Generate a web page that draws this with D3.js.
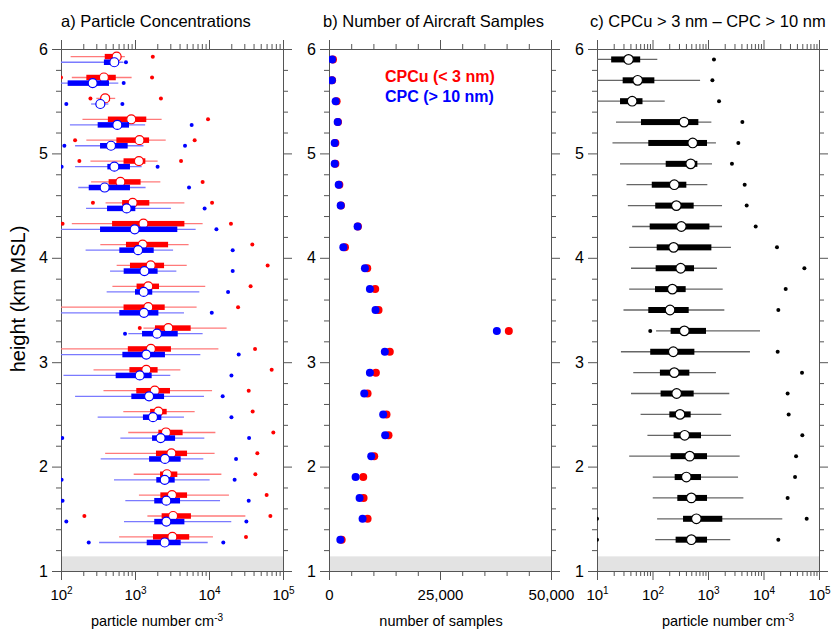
<!DOCTYPE html>
<html>
<head>
<meta charset="utf-8">
<script src="https://cdn.jsdelivr.net/npm/d3@7"></script>
<style>
  body { margin: 0; background: #fff; }
  svg { font-family: "Liberation Sans", Arial, Helvetica, sans-serif; }
  .axis path, .axis line { stroke: #555; }
</style>
</head>
<body>
<svg id="chart" width="832" height="631"></svg>
<script>
// height bins (km MSL)
const heights = [5.9, 5.7, 5.5, 5.3, 5.1, 4.9, 4.7, 4.5, 4.3, 4.1, 3.9, 3.7,
                 3.5, 3.3, 3.1, 2.9, 2.7, 2.5, 2.3, 2.1, 1.9, 1.7, 1.5, 1.3];

// CPCu (< 3 nm), cm-3 : [low whisker, q1, median, q3, high whisker]
const cpcuStats = [
  [135, 390, 565, 630, 730], [140, 220, 380, 550, 900], [300, 345, 395, 460, 540],
  [195, 430, 890, 1420, 2290], [220, 560, 1150, 1550, 2600], [250, 700, 1130, 1380, 2020],
  [255, 440, 635, 1190, 2200], [400, 670, 930, 1560, 4650], [140, 490, 1300, 4650, 8200],
  [340, 755, 1270, 2800, 5300], [565, 855, 1630, 2470, 5000], [495, 1050, 1510, 2110, 8900],
  [85, 700, 1510, 2520, 6800], [1300, 1860, 2820, 5650, 17300], [85, 800, 1640, 3060, 13400],
  [275, 840, 1420, 2020, 4100], [375, 1040, 1850, 2970, 11000], [695, 1600, 2070, 2680, 6400],
  [810, 2070, 2620, 4400, 12200], [395, 1920, 3100, 5050, 11900], [960, 2180, 2700, 3730, 14700],
  [1130, 2200, 3160, 5050, 18600], [1470, 2290, 3270, 5700, 31000], [610, 1750, 3200, 5400, 11300]
];
const cpcuLow = [null, 100, 250, null, 155, 177, null, 270, 105, null, null, null,
                 null, 1160, null, null, null, null, null, null, null, null, 207, null];
const cpcuHigh = [1740, 1700, 2240, 9700, 6400, 4190, 8200, 11000, 19800, 38500, 62000, 36500,
                  24700, null, 41900, 70300, 34400, 38900, 74000, 45000, 42300, 60100, 67500, 31600];

// CPC (> 10 nm), cm-3
const cpcStats = [
  [80, 380, 525, 595, 695], [80, 123, 268, 445, 595], [255, 303, 340, 380, 436],
  [132, 313, 577, 830, 1370], [155, 337, 474, 796, 1300], [155, 423, 526, 855, 1230],
  [171, 237, 389, 855, 1390], [218, 419, 771, 1010, 3060], [80, 337, 990, 3730, 6600],
  [215, 614, 1100, 1790, 3270], [460, 703, 1340, 2020, 3620], [414, 1000, 1310, 1710, 7400],
  [85, 614, 1320, 2070, 4590], [813, 1245, 1980, 3780, 8200], [85, 675, 1420, 2540, 7640],
  [108, 548, 1160, 1680, 3000], [155, 892, 1550, 2470, 8550], [313, 1280, 1750, 2270, 4590],
  [634, 1700, 2220, 3480, 8650], [344, 1550, 2540, 4140, 8380], [520, 1940, 2520, 3440, 10200],
  [740, 1820, 2650, 4060, 14100], [710, 1820, 2650, 4650, 20000], [327, 1440, 2520, 4140, 9600]
];
const cpcLow = [null, null, 118, null, 111, 102, null, null, null, null, null, null,
                null, 733, null, null, null, null, 104, null, 102, 105, 118, 237];
const cpcHigh = [755, 703, 675, 5830, 4740, 2020, 5370, 8730, 12600, 20900, 20900, 18100,
                 10900, null, 25200, 20100, 15300, 20100, 34800, 23200, 22200, 34400, 32000, 15600];

// number of aircraft samples
const cpcuSamples = [900, 700, 1720, 2030, 1430, 1430, 2330, 2700, 6520, 3600, 8610, 10400,
                     11160, 40500, 13690, 10560, 8690, 12950, 13400, 10180, 7710, 7790, 8690, 2850];
const cpcSamples = [700, 650, 1500, 1950, 1280, 1280, 2180, 2630, 6440, 3230, 8090, 9210,
                    10480, 37800, 12570, 9210, 7940, 12200, 12650, 9510, 5990, 6890, 7560, 2550];

// CPCu - CPC difference, cm-3
const diffStats = [
  [8, 18, 37, 60, 122], [8, 29, 54, 108, 720], [8, 26, 43, 66, 166],
  [22, 62, 370, 670, 1150], [19, 84, 530, 960, 1390], [26, 173, 487, 643, 1180],
  [34, 97, 247, 407, 973], [36, 112, 269, 552, 1790], [43, 89, 331, 1060, 1790],
  [38, 119, 240, 1150, 2590], [41, 114, 322, 560, 1450], [38, 111, 228, 396, 1840],
  [30, 84, 207, 449, 1970], [116, 212, 375, 920, 8650], [27, 91, 237, 568, 5700],
  [45, 136, 247, 461, 1390], [41, 140, 272, 552, 2420], [61, 201, 313, 487, 1740],
  [81, 240, 380, 748, 2590], [38, 212, 468, 960, 3720], [101, 251, 407, 748, 3480],
  [101, 280, 501, 960, 4340], [121, 355, 617, 1810, 21800], [112, 261, 501, 960, 2520]
];
const diffLow = [null, null, null, null, null, null, null, null, null, null, null, null,
                 null, 91, null, null, null, null, null, null, null, null, 10, 10];
const diffHigh = [1280, 1200, 1580, 4160, 3520, 2700, 4580, 4980, 7230, 17500, 54500, 25100,
                  18500, null, 18000, 49400, 27200, 28400, 50100, 38600, 37000, 27200, 60000, 18500];

const heightTicks = [1, 2, 3, 4, 5, 6];
const concTicksA = [1e2, 1e3, 1e4, 1e5];
const sampleTicks = [0, 25000, 50000];
const concTicksC = [1e1, 1e2, 1e3, 1e4, 1e5];
const panelTitles = ['a) Particle Concentrations', 'b) Number of Aircraft Samples', 'c) CPCu > 3 nm \u2013 CPC > 10 nm'];

const svg = d3.select('#chart');
svg.append('rect').attr('width', 832).attr('height', 631).attr('fill', '#fff');

const plotTop = 49, plotBottom = 571, pw = 222;
const lefts = [61, 329, 597];

const y = d3.scaleLinear().domain([1, 6]).range([plotBottom, plotTop]);
const xa = d3.scaleLog().domain([1e2, 1e5]).range([lefts[0], lefts[0] + pw]);
const xb = d3.scaleLinear().domain([0, 50000]).range([lefts[1], lefts[1] + pw]);
const xc = d3.scaleLog().domain([1e1, 1e5]).range([lefts[2], lefts[2] + pw]);

const minorY = d3.range(1, 6.01, 0.2).filter(v => Math.abs(v - Math.round(v)) > 0.01);

function logMinors(lo, hi) {
  const out = [];
  for (let e = lo; e < hi; e++) for (let m = 2; m <= 9; m++) out.push(m * Math.pow(10, e));
  return out;
}

// frame, band and axes of one panel
function panel(x, minorX, majorX, labelFn, i) {
  const left = lefts[i];
  const g = svg.append('g');

  g.append('rect')
    .attr('x', left).attr('y', y(1.14))
    .attr('width', pw).attr('height', y(1) - y(1.14))
    .attr('fill', '#e3e3e3');

  g.append('clipPath').attr('id', 'clip' + i)
    .append('rect').attr('x', left).attr('y', plotTop).attr('width', pw).attr('height', plotBottom - plotTop);

  // bottom
  g.append('g').attr('class', 'axis').attr('transform', `translate(0,${plotBottom})`)
    .call(d3.axisBottom(x).tickValues(minorX).tickSize(5).tickSizeOuter(0).tickFormat(''));
  const bx = g.append('g').attr('class', 'axis').attr('transform', `translate(0,${plotBottom})`)
    .call(d3.axisBottom(x).tickValues(majorX).tickSize(9).tickSizeOuter(0).tickPadding(9).tickFormat(''));
  bx.selectAll('.tick text').attr('font-size', 15).attr('fill', '#000').each(labelFn);
  // top
  g.append('g').attr('class', 'axis').attr('transform', `translate(0,${plotTop})`)
    .call(d3.axisTop(x).tickValues(minorX).tickSize(5).tickSizeOuter(0).tickFormat(''));
  g.append('g').attr('class', 'axis').attr('transform', `translate(0,${plotTop})`)
    .call(d3.axisTop(x).tickValues(majorX).tickSize(9).tickSizeOuter(0).tickFormat(''));
  // left
  g.append('g').attr('class', 'axis').attr('transform', `translate(${left},0)`)
    .call(d3.axisLeft(y).tickValues(minorY).tickSize(5).tickSizeOuter(0).tickFormat(''));
  g.append('g').attr('class', 'axis').attr('transform', `translate(${left},0)`)
    .call(d3.axisLeft(y).tickValues(heightTicks).tickSize(9).tickSizeOuter(0).tickPadding(4).tickFormat(d3.format('d')))
    .selectAll('.tick text').attr('font-size', 16).attr('fill', '#000');
  // right
  g.append('g').attr('class', 'axis').attr('transform', `translate(${left + pw},0)`)
    .call(d3.axisRight(y).tickValues(minorY).tickSize(5).tickSizeOuter(0).tickFormat(''));
  g.append('g').attr('class', 'axis').attr('transform', `translate(${left + pw},0)`)
    .call(d3.axisRight(y).tickValues(heightTicks).tickSize(9).tickSizeOuter(0).tickFormat(''));

  svg.append('text').attr('x', i === 0 ? 61 : i === 1 ? 323 : 590).attr('y', 27)
    .attr('font-size', 16.5).text(panelTitles[i]);

  return g.append('g').attr('clip-path', `url(#clip${i})`);
}

function powLabel(d) {
  const t = d3.select(this);
  t.append('tspan').text('10');
  t.append('tspan').attr('dy', -6).attr('font-size', 10).text(Math.round(Math.log10(d)));
}
function numLabel(d) {
  d3.select(this).text(d3.format(',')(d));
}

// box-and-whisker rows
function boxRows(g, x, stats, lows, highs, off, col, light, boxH, r) {
  const rows = g.append('g');
  const data = heights.map((h, i) => ({ h, s: stats[i], lo: lows[i], hi: highs[i] }));
  const cy = d => y(d.h) + off;
  rows.selectAll('line.wh').data(data).join('line')
    .attr('x1', d => x(d.s[0])).attr('x2', d => x(d.s[4]))
    .attr('y1', cy).attr('y2', cy)
    .attr('stroke', light).attr('stroke-width', 1.3);
  rows.selectAll('rect').data(data).join('rect')
    .attr('x', d => x(d.s[1])).attr('width', d => x(d.s[3]) - x(d.s[1]))
    .attr('y', d => cy(d) - boxH / 2).attr('height', boxH)
    .attr('fill', col);
  const dots = data.flatMap(d => [d.lo, d.hi].filter(v => v != null).map(v => ({ v, h: d.h })));
  rows.selectAll('circle.dot').data(dots).join('circle')
    .attr('cx', d => x(d.v)).attr('cy', cy).attr('r', 2).attr('fill', col);
  rows.selectAll('circle.med').data(data).join('circle')
    .attr('cx', d => x(d.s[2])).attr('cy', cy).attr('r', r)
    .attr('fill', '#fff').attr('stroke', col).attr('stroke-width', 1.2);
}

// a) particle concentrations
const ga = panel(xa, logMinors(2, 5), concTicksA, powLabel, 0);
boxRows(ga, xa, cpcuStats, cpcuLow, cpcuHigh, -2.8, '#ff0000', '#ff7a7a', 5.5, 4.5);
boxRows(ga, xa, cpcStats, cpcLow, cpcHigh, 2.8, '#0000ff', '#7a7aff', 5.5, 4.5);

// b) number of samples
const gb = panel(xb, d3.range(5000, 50000, 5000).filter(v => v !== 25000), sampleTicks, numLabel, 1);
gb.selectAll('circle.u').data(heights).join('circle')
  .attr('cx', (d, i) => xb(cpcuSamples[i])).attr('cy', d => y(d)).attr('r', 4).attr('fill', '#ff0000');
gb.selectAll('circle.c').data(heights).join('circle')
  .attr('cx', (d, i) => xb(cpcSamples[i])).attr('cy', d => y(d)).attr('r', 4).attr('fill', '#0000ff');
svg.append('text').attr('x', 385).attr('y', 82).attr('font-size', 16).attr('font-weight', 'bold')
  .attr('fill', '#ff0000').text('CPCu (< 3 nm)');
svg.append('text').attr('x', 385).attr('y', 102).attr('font-size', 16).attr('font-weight', 'bold')
  .attr('fill', '#0000ff').text('CPC (> 10 nm)');

// c) difference
const gc = panel(xc, logMinors(1, 5), concTicksC, powLabel, 2);
boxRows(gc, xc, diffStats, diffLow, diffHigh, 0, '#000', '#666', 6, 4.8);

// axis titles
function unitTitle(x) {
  const t = svg.append('text').attr('x', x).attr('y', 626).attr('font-size', 14.5).attr('text-anchor', 'middle');
  t.append('tspan').text('particle number cm');
  t.append('tspan').attr('dy', -5).attr('font-size', 10).text('-3');
}
unitTitle(157);
unitTitle(728);
svg.append('text').attr('x', 441).attr('y', 626).attr('font-size', 14.5).attr('text-anchor', 'middle')
  .text('number of samples');
svg.append('text').attr('transform', 'translate(25,299) rotate(-90)')
  .attr('font-size', 20).attr('text-anchor', 'middle').text('height (km MSL)');
</script>
</body>
</html>
